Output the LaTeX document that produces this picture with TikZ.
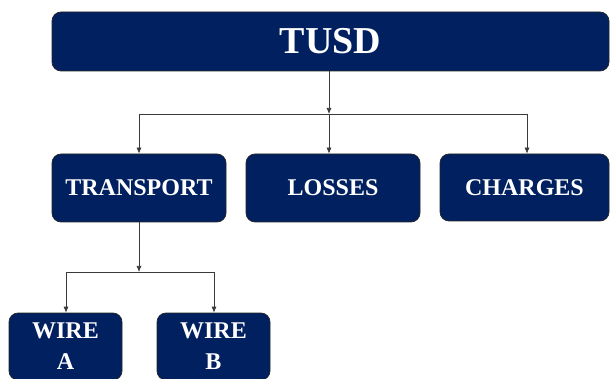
\documentclass[tikz,border=0pt]{standalone}
\usepackage{fontspec}
\setmainfont{Liberation Serif}
\usetikzlibrary{arrows.meta}
\definecolor{navy}{HTML}{002060}
\definecolor{linegray}{HTML}{3A3A3A}
\tikzset{
  box/.style={draw=black!85, line width=0.7pt, fill=navy, rounded corners=9pt,
    text=white, font=\bfseries\fontsize{24}{31}\selectfont, inner sep=0pt,
    align=center, anchor=center},
  conn/.style={draw=linegray, line width=0.7pt},
  arr/.style={conn, -{Latex[length=6pt,width=5pt]}}
}
\begin{document}
\begin{tikzpicture}[x=1pt,y=-1pt]
\useasboundingbox (0,0) rectangle (610,379);
\node[box, minimum width=557pt, minimum height=59pt, font=\bfseries\fontsize{38}{44}\selectfont] (tusd) at (330.5,41.5) {\raisebox{-1.5pt}{TUSD}};
\node[box, minimum width=174pt, minimum height=68pt] (transport) at (139,188) {\raisebox{-1.5pt}{TRANSPORT}};
\node[box, minimum width=174pt, minimum height=68pt] (losses) at (333,188) {\raisebox{-1.5pt}{LOSSES}};
\node[box, minimum width=169pt, minimum height=67pt] (charges) at (524.5,187.5) {\raisebox{-1.5pt}{CHARGES}};
\node[box, minimum width=113pt, minimum height=67pt] (wirea) at (65.5,346.5) {\raisebox{-1.5pt}{WIRE}\\\raisebox{-1.5pt}{A}};
\node[box, minimum width=113pt, minimum height=67pt] (wireb) at (213.5,346.5) {\raisebox{-1.5pt}{WIRE}\\\raisebox{-1.5pt}{B}};
% top level bus
\coordinate (busM) at (329,114);
\coordinate (busL) at (139,114);
\coordinate (busR) at (527,114);
\draw[arr] (tusd.south -| busM) -- (busM);
\draw[conn] (busL) -- (busR);
\draw[arr] (busL) -- (busL |- transport.north);
\draw[arr] (busM) -- (busM |- losses.north);
\draw[arr] (busR) -- (busR |- charges.north);
% transport bus
\coordinate (tbus) at (139,272);
\coordinate (tbusL) at (66,272);
\coordinate (tbusR) at (214,272);
\draw[arr] (transport.south) -- (tbus);
\draw[conn] (tbusL) -- (tbusR);
\draw[arr] (tbusL) -- (tbusL |- wirea.north);
\draw[arr] (tbusR) -- (tbusR |- wireb.north);
\end{tikzpicture}
\end{document}
